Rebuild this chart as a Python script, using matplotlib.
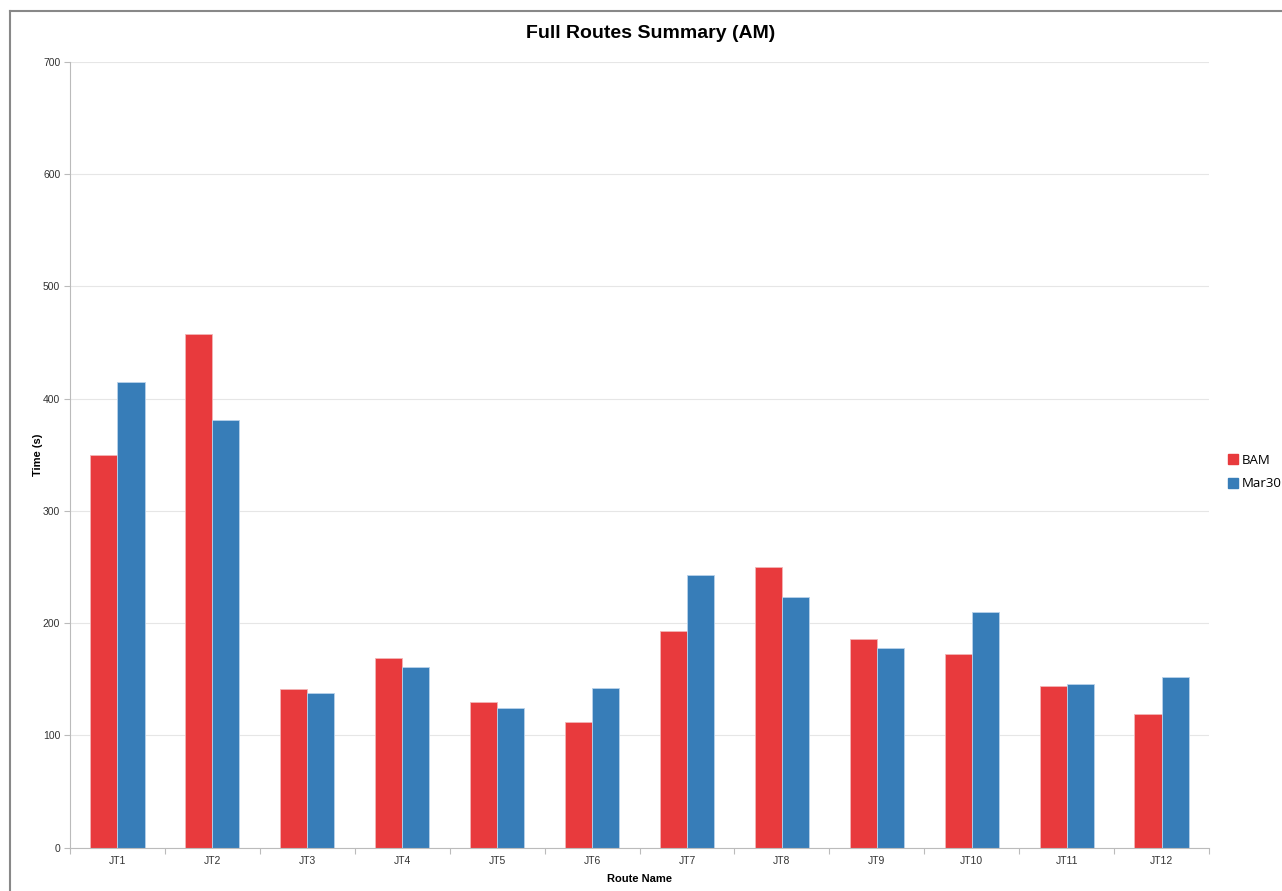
import numpy as np
import matplotlib.pyplot as plt
from matplotlib.lines import Line2D

routes = ["JT1", "JT2", "JT3", "JT4", "JT5", "JT6",
          "JT7", "JT8", "JT9", "JT10", "JT11", "JT12"]
bam = [350, 458, 141, 169, 130, 112, 193, 250, 186, 172, 144, 119]
mar30 = [415, 381, 138, 161, 124, 142, 243, 223, 178, 210, 146, 152]

red = "#e83a3d"
blue = "#377db8"

plt.rcParams['font.family'] = ['Liberation Sans', 'DejaVu Sans']

fig = plt.figure(figsize=(12.82, 8.91), dpi=100)
ax = fig.add_axes([70 / 1282, 1 - 847.5 / 891, 1139 / 1282, 785.5 / 891])

x = np.arange(len(routes))
w = 0.285
ax.bar(x - w / 2, bam, w, color=red, edgecolor="#f2b5b6", linewidth=0.6,
       label="BAM", zorder=2)
ax.bar(x + w / 2, mar30, w, color=blue, edgecolor="#b9d2ea", linewidth=0.6,
       label="Mar30", zorder=2)

ax.set_xlim(-0.5, len(routes) - 0.5)
ax.set_ylim(0, 700)
ax.set_yticks(range(0, 701, 100))
ax.set_xticks(x)
ax.set_xticklabels(routes)
ax.set_xticks(np.arange(-0.5, len(routes)), minor=True)
ax.tick_params(axis="x", which="major", length=0, pad=6, labelsize=7.5, labelcolor="#333333")
ax.tick_params(axis="x", which="minor", length=4, color="#bbbbbb", width=0.8)
ax.tick_params(axis="y", length=4, color="#bbbbbb", width=0.8, pad=3,
               labelsize=7.5, labelcolor="#333333")

ax.grid(axis="y", color="#e6e6e6", linewidth=0.8, zorder=0)
ax.set_axisbelow(True)
for s in ["top", "right"]:
    ax.spines[s].set_visible(False)
for s in ["left", "bottom"]:
    ax.spines[s].set_color("#bbbbbb")
    ax.spines[s].set_linewidth(0.8)

ax.set_xlabel("Route Name", fontsize=8, fontweight="bold", labelpad=6)
ax.set_ylabel("Time (s)", fontsize=8, fontweight="bold", labelpad=0)

fig.text(651 / 1282, 1 - 34 / 891, "Full Routes Summary (AM)", ha="center", va="center",
         fontsize=14, fontweight="bold")

handles = [Line2D([], [], marker="s", linestyle="none", markersize=7, color=red),
           Line2D([], [], marker="s", linestyle="none", markersize=7, color=blue)]
fig.legend(handles, ["BAM", "Mar30"], loc="center left",
           bbox_to_anchor=(1226 / 1282, 1 - 472 / 891), frameon=False,
           prop={"family": "Open Sans", "size": 9.5}, handletextpad=0.2,
           labelspacing=0.8, handlelength=1.0, borderpad=0, borderaxespad=0)

# outer frame: only the left and top edges are shown
fig.add_artist(Line2D([10 / 1282, 10 / 1282], [0, 1 - 11 / 891],
                      transform=fig.transFigure, color="#888888", linewidth=1.5))
fig.add_artist(Line2D([10 / 1282, 1], [1 - 11 / 891, 1 - 11 / 891],
                      transform=fig.transFigure, color="#888888", linewidth=1.5))

fig.savefig("out.png", dpi=100)
